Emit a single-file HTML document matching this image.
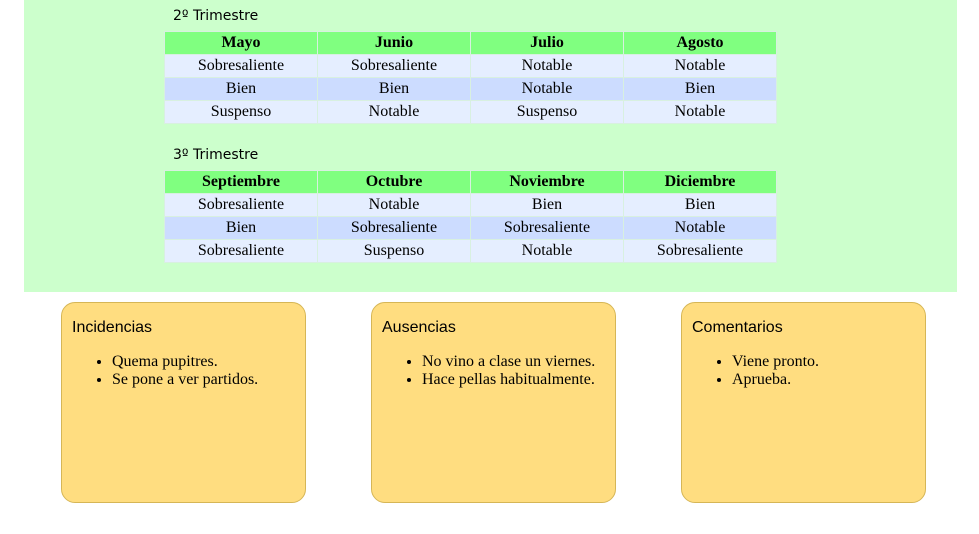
<!DOCTYPE html>
<html><head><style>
body{margin:0;width:979px;height:534px;background:#fff;position:relative;overflow:hidden}
.bg{position:absolute;left:24px;top:0;width:933px;height:292px;background:#ccffcc}
.t{position:absolute;left:173px;font:14px "DejaVu Sans","Liberation Sans",sans-serif;color:#000}
table{position:absolute;left:164px;width:613px;border-collapse:collapse;font:16px "Liberation Serif",serif;table-layout:fixed}
td,th{height:22px;padding:0;text-align:center;border:1px solid #d8f0e0}
th{background:#80ff80;font-weight:bold;font-size:16px}
tr.a td{background:#e5eeff}
tr.b td{background:#ccdcff}
.box{position:absolute;top:302px;width:243px;height:199px;background:#ffdd80;border:1px solid #d6b656;border-radius:14px;box-sizing:content-box}
.box h{position:absolute;left:10px;top:16px;font:16px "Liberation Sans",sans-serif}
.box ul{position:absolute;left:0;top:50px;margin:0;padding-left:50px;font:16px "Liberation Serif",serif;line-height:18px}
</style></head><body>
<div class="bg"></div>
<div class="t" style="top:8px">2º Trimestre</div>
<table style="top:31px">
<tr><th>Mayo</th><th>Junio</th><th>Julio</th><th>Agosto</th></tr>
<tr class="a"><td>Sobresaliente</td><td>Sobresaliente</td><td>Notable</td><td>Notable</td></tr>
<tr class="b"><td>Bien</td><td>Bien</td><td>Notable</td><td>Bien</td></tr>
<tr class="a"><td>Suspenso</td><td>Notable</td><td>Suspenso</td><td>Notable</td></tr>
</table>
<div class="t" style="top:147px">3º Trimestre</div>
<table style="top:170px">
<tr><th>Septiembre</th><th>Octubre</th><th>Noviembre</th><th>Diciembre</th></tr>
<tr class="a"><td>Sobresaliente</td><td>Notable</td><td>Bien</td><td>Bien</td></tr>
<tr class="b"><td>Bien</td><td>Sobresaliente</td><td>Sobresaliente</td><td>Notable</td></tr>
<tr class="a"><td>Sobresaliente</td><td>Suspenso</td><td>Notable</td><td>Sobresaliente</td></tr>
</table>
<div class="box" style="left:61px"><h>Incidencias</h><ul><li>Quema pupitres.</li><li>Se pone a ver partidos.</li></ul></div>
<div class="box" style="left:371px"><h>Ausencias</h><ul><li>No vino a clase un viernes.</li><li>Hace pellas habitualmente.</li></ul></div>
<div class="box" style="left:681px"><h>Comentarios</h><ul><li>Viene pronto.</li><li>Aprueba.</li></ul></div>
</body></html>
